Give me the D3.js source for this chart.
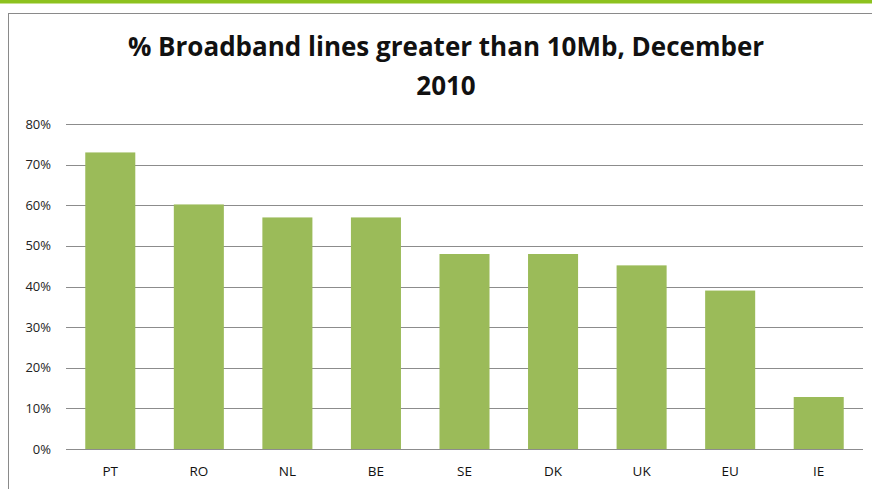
<!DOCTYPE html>
<html>
<head>
<meta charset="utf-8">
<script src="https://cdn.jsdelivr.net/npm/d3@7"></script>
<style>
  body { margin: 0; background: #fff; }
  svg { display: block; }
</style>
</head>
<body>
<svg id="chart" width="872" height="489"></svg>
<script>
const countries = ["PT", "RO", "NL", "BE", "SE", "DK", "UK", "EU", "IE"];
const shares = [0.73, 0.602, 0.57, 0.57, 0.48, 0.48, 0.452, 0.39, 0.128];
const yTicks = [0, 0.1, 0.2, 0.3, 0.4, 0.5, 0.6, 0.7, 0.8];
const titleLines = ["% Broadband lines greater than 10Mb, December", "2010"];

const svg = d3.select("#chart");
const W = 872, H = 489;
const margin = {top: 124, right: 9, bottom: 40, left: 66};

// green strip on top + chart frame
svg.append("rect").attr("x", 0).attr("y", 0).attr("width", W).attr("height", 3.5).attr("fill", "#8dc21f");
svg.append("rect").attr("x", 8.5).attr("y", 13.5).attr("width", W).attr("height", H)
  .attr("fill", "none").attr("stroke", "#8a8a8a").attr("stroke-width", 1);

const x = d3.scaleBand().domain(countries).range([margin.left, W - margin.right])
  .paddingInner(0.435).paddingOuter(0.2175);
const y = d3.scaleLinear().domain([0, 0.8]).range([H - margin.bottom, margin.top]);

// gridlines
svg.append("g").selectAll("line").data(yTicks).enter().append("line")
  .attr("x1", margin.left).attr("x2", W - margin.right)
  .attr("y1", d => Math.round(y(d)) + 0.5).attr("y2", d => Math.round(y(d)) + 0.5)
  .attr("stroke", "#8c8c8c").attr("stroke-width", 1);

// y labels
svg.append("g").selectAll("text").data(yTicks).enter().append("text")
  .attr("x", 51).attr("y", d => y(d) + 4.5)
  .attr("text-anchor", "end")
  .style("font", "13px 'Open Sans', sans-serif").style("fill", "#222")
  .text(d3.format(".0%"));

// bars
svg.append("g").selectAll("rect").data(countries).enter().append("rect")
  .attr("x", d => x(d))
  .attr("width", x.bandwidth())
  .attr("y", (d, i) => y(shares[i]))
  .attr("height", (d, i) => y(0) - y(shares[i]))
  .attr("fill", "#9bbb59");

// redraw baseline above bars
svg.append("line").attr("x1", margin.left).attr("x2", W - margin.right)
  .attr("y1", Math.round(y(0)) + 0.5).attr("y2", Math.round(y(0)) + 0.5)
  .attr("stroke", "#8c8c8c");

// category labels
svg.append("g").selectAll("text").data(countries).enter().append("text")
  .attr("x", d => x(d) + x.bandwidth() / 2).attr("y", 476)
  .attr("text-anchor", "middle")
  .style("font", "13.5px 'Open Sans', sans-serif").style("fill", "#111")
  .text(d => d);

// title
svg.append("g").selectAll("text").data(titleLines).enter().append("text")
  .attr("x", 446).attr("y", (d, i) => 56 + i * 39)
  .attr("text-anchor", "middle")
  .style("font", "bold 26px 'Open Sans', sans-serif").style("fill", "#111")
  .text(d => d);
</script>
</body>
</html>
